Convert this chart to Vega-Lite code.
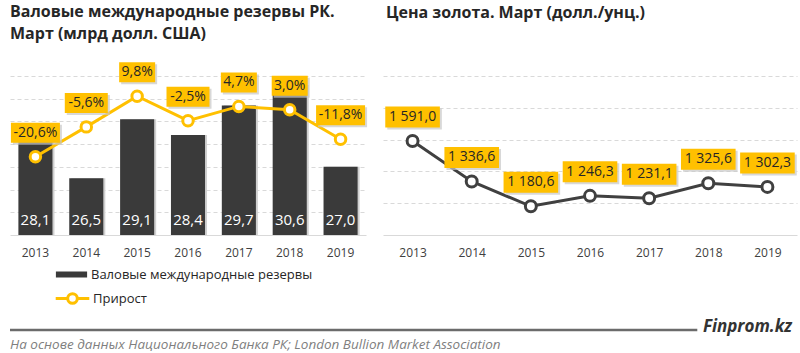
{
  "$schema": "https://vega.github.io/schema/vega-lite/v6.json",
  "padding": {"left": 8, "top": 4, "right": 0, "bottom": 0},
  "config": {
    "font": "Open Sans",
    "view": {"stroke": null},
    "locale": {"number": {"decimal": ",", "thousands": " ", "grouping": [3], "currency": ["", ""], "minus": "-", "percent": "%"}},
    "axisX": {"title": null, "labelAngle": 0, "ticks": false, "grid": false, "domainColor": "#d9d9d9", "domainWidth": 1, "labelColor": "#404040", "labelFontSize": 12, "labelPadding": 12, "labelFont": "Open Sans"},
    "axisY": {"title": null, "labels": false, "ticks": false, "domain": false, "grid": true, "gridColor": "#d9d9d9", "gridDash": [4, 3], "gridWidth": 1},
    "title": {"anchor": "start", "font": "Open Sans", "fontSize": 16, "fontWeight": "bold", "color": "#262626"}
  },
  "bounds": "full",
  "spacing": 60,
  "vconcat": [
    {
      "bounds": "flush",
      "spacing": 17,
      "hconcat": [
        {
          "width": 356,
          "height": 159,
          "title": {"text": ["Валовые международные резервы РК.", "Март (млрд долл. США)"], "lineHeight": 22, "offset": 20},
          "data": {"values": [
            {"year": "2013", "reserves": 28.1, "growth": -20.6},
            {"year": "2014", "reserves": 26.5, "growth": -5.6},
            {"year": "2015", "reserves": 29.1, "growth": 9.8},
            {"year": "2016", "reserves": 28.4, "growth": -2.5},
            {"year": "2017", "reserves": 29.7, "growth": 4.7},
            {"year": "2018", "reserves": 30.6, "growth": 3.0},
            {"year": "2019", "reserves": 27.0, "growth": -11.8}
          ]},
          "transform": [
            {"calculate": "format(datum.growth / 100, '.1%')", "as": "glabel"},
            {"calculate": "length(datum.glabel)", "as": "glen"}
          ],
          "encoding": {
            "x": {"field": "year", "type": "ordinal", "scale": {"paddingInner": 0.33, "paddingOuter": 0.165}}
          },
          "layer": [
            {
              "encoding": {
                "y": {"field": "reserves", "type": "quantitative", "scale": {"domain": [24, 31], "nice": false, "zero": false}, "axis": {"values": [25, 26, 27, 28, 29, 30, 31]}}
              },
              "layer": [
                {
                  "mark": {"type": "bar", "color": "#d0d0d0", "xOffset": 2},
                  "encoding": {"y2": {"datum": 24}}
                },
                {
                  "mark": {"type": "bar"},
                  "encoding": {
                    "y2": {"datum": 24},
                    "color": {"datum": "Валовые международные резервы", "type": "nominal", "scale": {"range": ["#3a3a3a"]},
                      "legend": {"orient": "none", "legendX": 55, "legendY": 192, "title": null, "padding": 0,
                        "symbolType": "M-2.6,-0.5H2.6V0.5H-2.6Z", "symbolSize": 144, "symbolStrokeWidth": 0, "labelOffset": 13, "labelLimit": 400,
                        "labelFont": "Open Sans", "labelFontSize": 13, "labelColor": "#262626"}}
                  }
                },
                {
                  "mark": {"type": "text", "color": "white", "fontSize": 15, "dy": -15, "baseline": "middle"},
                  "encoding": {
                    "y": {"datum": 24},
                    "text": {"field": "reserves", "type": "quantitative", "format": ".1f"}
                  }
                }
              ]
            },
            {
              "encoding": {
                "y": {"field": "growth", "type": "quantitative", "scale": {"domain": [-60, 20], "nice": false, "zero": false}, "axis": null}
              },
              "layer": [
                {
                  "mark": {"type": "line", "strokeWidth": 3},
                  "encoding": {
                    "stroke": {"datum": "Прирост", "type": "nominal", "scale": {"range": ["#FFC000"]},
                      "legend": {"orient": "none", "legendX": 55, "legendY": 215, "title": null, "padding": 0,
                        "symbolType": "M-2.8,0H-0.8M0.8,0H2.8M0.8,0A0.8,0.8,0,1,1,-0.8,0A0.8,0.8,0,1,1,0.8,0", "symbolSize": 144, "symbolStrokeWidth": 3, "symbolFillColor": "white", "labelOffset": 13, "labelLimit": 400,
                        "labelFont": "Open Sans", "labelFontSize": 13, "labelColor": "#262626"}}
                  }
                },
                {
                  "mark": {"type": "point", "filled": true, "fill": "white", "stroke": "#FFC000", "strokeWidth": 3, "size": 110, "opacity": 1}
                },
                {
                  "mark": {"type": "point", "filled": true, "color": "#c8c8c8", "opacity": 0.7, "size": 400, "xOffset": 2, "yOffset": -22},
                  "encoding": {"shape": {"field": "glen", "type": "nominal", "scale": {"domain": [4, 5, 6], "range": ["M-1.8,-1H1.8V1H-1.8Z", "M-2.15,-1H2.15V1H-2.15Z", "M-2.45,-1H2.45V1H-2.45Z"]}, "legend": null}}
                },
                {
                  "mark": {"type": "point", "filled": true, "color": "#FFC000", "opacity": 1, "size": 400, "yOffset": -24},
                  "encoding": {"shape": {"field": "glen", "type": "nominal", "scale": {"domain": [4, 5, 6], "range": ["M-1.8,-1H1.8V1H-1.8Z", "M-2.15,-1H2.15V1H-2.15Z", "M-2.45,-1H2.45V1H-2.45Z"]}, "legend": null}}
                },
                {
                  "mark": {"type": "text", "fontSize": 14, "color": "#262626", "dy": -24, "baseline": "middle"},
                  "encoding": {"text": {"field": "glabel", "type": "nominal"}}
                }
              ]
            }
          ],
          "resolve": {"scale": {"y": "independent"}}
        },
        {
          "width": 414,
          "height": 159,
          "title": {"text": "Цена золота. Март (долл./унц.)", "offset": 55, "dx": 3},
          "data": {"values": [
            {"year": "2013", "price": 1591.0},
            {"year": "2014", "price": 1336.6},
            {"year": "2015", "price": 1180.6},
            {"year": "2016", "price": 1246.3},
            {"year": "2017", "price": 1231.1},
            {"year": "2018", "price": 1325.6},
            {"year": "2019", "price": 1302.3}
          ]},
          "encoding": {
            "x": {"field": "year", "type": "ordinal"},
            "y": {"field": "price", "type": "quantitative", "scale": {"domain": [1000, 2000], "nice": false, "zero": false}, "axis": {"values": [1200, 1400, 1600, 1800, 2000]}}
          },
          "layer": [
            {"mark": {"type": "line", "color": "#404040", "strokeWidth": 3}},
            {"mark": {"type": "point", "filled": true, "fill": "white", "stroke": "#404040", "strokeWidth": 3, "size": 120, "opacity": 1}},
            {"mark": {"type": "point", "filled": true, "color": "#c8c8c8", "opacity": 0.7, "shape": "M-2.6,-1H2.6V1H-2.6Z", "size": 441, "xOffset": 2, "yOffset": -22}},
            {"mark": {"type": "point", "filled": true, "color": "#FFC000", "opacity": 1, "shape": "M-2.6,-1H2.6V1H-2.6Z", "size": 441, "yOffset": -24}},
            {
              "mark": {"type": "text", "fontSize": 14, "color": "#262626", "dy": -24, "baseline": "middle"},
              "encoding": {"text": {"field": "price", "type": "quantitative", "format": ",.1f"}}
            }
          ]
        }
      ]
    },
    {
      "width": 790,
      "height": 30,
      "data": {"values": [{"note": "На основе данных  Национального  Банка РК; London  Bullion Market Association", "brand": "Finprom.kz"}]},
      "layer": [
        {
          "mark": {"type": "rule", "color": "#6b6b6b", "strokeWidth": 2.5},
          "encoding": {
            "x": {"datum": 0, "type": "quantitative", "scale": {"domain": [0, 1]}, "axis": null},
            "x2": {"datum": 0.87},
            "y": {"datum": 0.73, "type": "quantitative", "scale": {"domain": [0, 1]}, "axis": null}
          }
        },
        {
          "mark": {"type": "text", "align": "right", "baseline": "middle", "fontSize": 17, "fontWeight": "bold", "fontStyle": "italic", "color": "#333333"},
          "encoding": {
            "x": {"datum": 0.99, "type": "quantitative", "scale": {"domain": [0, 1]}, "axis": null},
            "y": {"datum": 0.83, "type": "quantitative", "scale": {"domain": [0, 1]}, "axis": null},
            "text": {"field": "brand"}
          }
        },
        {
          "mark": {"type": "text", "align": "left", "baseline": "middle", "fontSize": 13.5, "fontStyle": "italic", "color": "#7f7f7f"},
          "encoding": {
            "x": {"datum": 0, "type": "quantitative", "scale": {"domain": [0, 1]}, "axis": null},
            "y": {"datum": 0.22, "type": "quantitative", "scale": {"domain": [0, 1]}, "axis": null},
            "text": {"field": "note"}
          }
        }
      ]
    }
  ]
}
